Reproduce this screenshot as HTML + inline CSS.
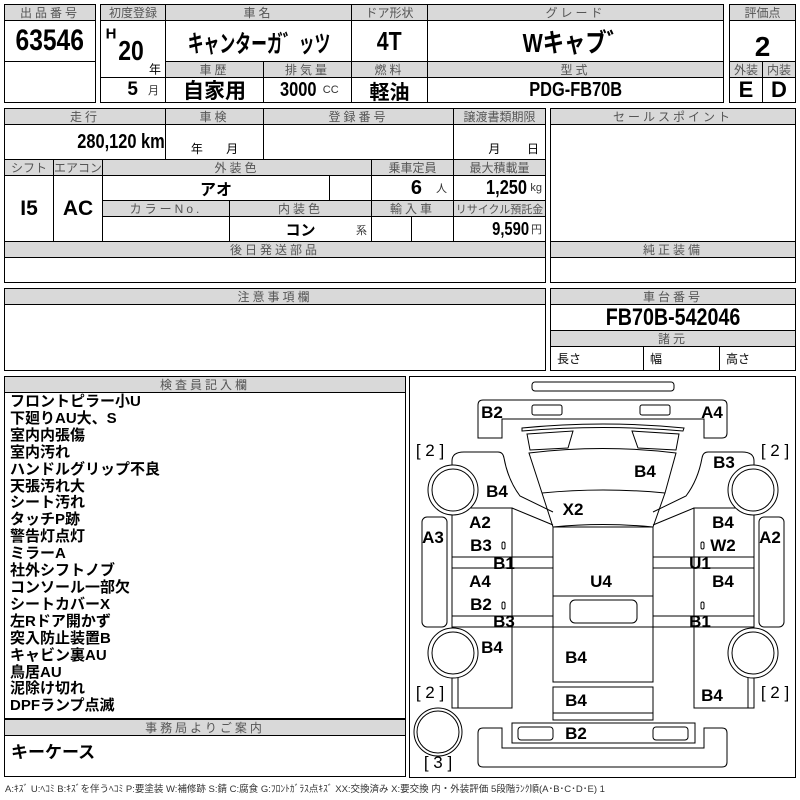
<!DOCTYPE html>
<html><head><meta charset="utf-8"><style>
*{margin:0;padding:0;box-sizing:border-box}
body{width:800px;height:800px;background:#fff;position:relative;overflow:hidden;font-family:"Liberation Sans","Noto Sans CJK JP",sans-serif}
.c{position:absolute;border:1px solid #000;display:flex;align-items:center;justify-content:center;white-space:nowrap}
.h{background:#d9d9d9;color:#555;font-size:12px;letter-spacing:3px}
.v{font-family:"Liberation Sans","Noto Sans CJK JP",sans-serif;font-weight:bold;color:#000}
.s{font-size:11px;color:#333;font-weight:normal}
.n{display:inline-block;transform:scaleX(.82)}
.lbl{position:absolute;font-family:"Liberation Sans","Noto Sans CJK JP",sans-serif;font-weight:bold;font-size:17px;transform:translate(-50%,-50%);white-space:nowrap}
</style></head><body>
<!-- block 1 -->
<div class="c h" style="left:4px;top:4px;width:92px;height:17px">出品番号</div>
<div class="c v" style="left:4px;top:20px;width:92px;height:42px;font-size:30px"><span class="n">63546</span></div>
<div class="c" style="left:4px;top:61px;width:92px;height:42px"></div>
<!-- block 2 -->
<div class="c h" style="left:100px;top:4px;width:66px;height:17px;letter-spacing:0">初度登録</div>
<div class="c h" style="left:165px;top:4px;width:187px;height:17px">車名</div>
<div class="c h" style="left:351px;top:4px;width:77px;height:17px;letter-spacing:0">ドア形状</div>
<div class="c h" style="left:427px;top:4px;width:297px;height:17px">グレード</div>
<div class="c" style="left:100px;top:20px;width:66px;height:58px"></div>
<div class="lbl v" style="left:111px;top:34px;font-size:15px">H</div>
<div class="lbl v" style="left:131px;top:51px;font-size:28px"><span class="n">20</span></div>
<div class="lbl" style="left:155px;top:69px;font-size:12px;font-weight:normal">年</div>
<div class="c v" style="left:165px;top:20px;width:187px;height:42px;font-size:24px;overflow:hidden"><span style="display:inline-block;transform:scaleX(.66)">キャンターガ゛ッツ</span></div>
<div class="c v" style="left:351px;top:20px;width:77px;height:42px;font-size:26px"><span class="n">4T</span></div>
<div class="c v" style="left:427px;top:20px;width:297px;height:42px;font-size:26px"><span class="n">Wキャブ゛</span></div>
<div class="c h" style="left:165px;top:61px;width:99px;height:17px">車歴</div>
<div class="c h" style="left:263px;top:61px;width:89px;height:17px">排気量</div>
<div class="c h" style="left:351px;top:61px;width:77px;height:17px">燃料</div>
<div class="c h" style="left:427px;top:61px;width:297px;height:17px">型式</div>
<div class="c v" style="left:100px;top:77px;width:66px;height:26px;font-size:19px;justify-content:flex-end;padding-right:6px">5 <span class="s" style="margin-left:10px">月</span></div>
<div class="c v" style="left:165px;top:77px;width:99px;height:26px;font-size:21px">自家用</div>
<div class="c v" style="left:263px;top:77px;width:89px;height:26px;font-size:20px"><span class="n">3000</span><span class="s" style="margin-left:2px">CC</span></div>
<div class="c v" style="left:351px;top:77px;width:77px;height:26px;font-size:20px">軽油</div>
<div class="c v" style="left:427px;top:77px;width:297px;height:26px;font-size:20px"><span class="n">PDG-FB70B</span></div>
<!-- block 3 -->
<div class="c h" style="left:729px;top:4px;width:67px;height:17px;letter-spacing:0">評価点</div>
<div class="c v" style="left:729px;top:20px;width:67px;height:42px;font-size:28px;padding-top:12px">2</div>
<div class="c h" style="left:729px;top:61px;width:34px;height:17px;letter-spacing:0">外装</div>
<div class="c h" style="left:762px;top:61px;width:34px;height:17px;letter-spacing:0">内装</div>
<div class="c v" style="left:729px;top:77px;width:34px;height:26px;font-size:22px">E</div>
<div class="c v" style="left:762px;top:77px;width:34px;height:26px;font-size:22px">D</div>
<!-- row 2 -->
<div class="c h" style="left:4px;top:108px;width:162px;height:17px">走行</div>
<div class="c h" style="left:165px;top:108px;width:99px;height:17px">車検</div>
<div class="c h" style="left:263px;top:108px;width:191px;height:17px">登録番号</div>
<div class="c h" style="left:453px;top:108px;width:93px;height:17px;letter-spacing:0">譲渡書類期限</div>
<div class="c v" style="left:4px;top:124px;width:162px;height:36px;font-size:20px;justify-content:flex-end;padding-right:0px"><span class="n" style="transform-origin:right">280,120 km</span></div>
<div class="c" style="left:165px;top:124px;width:99px;height:36px;font-size:12px;align-items:flex-end;padding-bottom:2px">年&nbsp;&nbsp;&nbsp;&nbsp;&nbsp;&nbsp;&nbsp;月</div>
<div class="c" style="left:263px;top:124px;width:191px;height:36px"></div>
<div class="c" style="left:453px;top:124px;width:93px;height:36px;font-size:12px;align-items:flex-end;padding-bottom:2px;justify-content:flex-end;padding-right:6px">月&nbsp;&nbsp;&nbsp;&nbsp;&nbsp;&nbsp;&nbsp;&nbsp;日</div>
<div class="c h" style="left:4px;top:159px;width:50px;height:17px;letter-spacing:0">シフト</div>
<div class="c h" style="left:53px;top:159px;width:50px;height:17px;letter-spacing:0">エアコン</div>
<div class="c h" style="left:102px;top:159px;width:270px;height:17px">外装色</div>
<div class="c h" style="left:371px;top:159px;width:83px;height:17px;letter-spacing:0">乗車定員</div>
<div class="c h" style="left:453px;top:159px;width:93px;height:17px;letter-spacing:0">最大積載量</div>
<div class="c v" style="left:4px;top:175px;width:50px;height:67px;font-size:21px">I5</div>
<div class="c v" style="left:53px;top:175px;width:50px;height:67px;font-size:21px">AC</div>
<div class="c v" style="left:102px;top:175px;width:228px;height:26px;font-size:16px">アオ</div>
<div class="c" style="left:329px;top:175px;width:43px;height:26px"></div>
<div class="c v" style="left:371px;top:175px;width:83px;height:26px;font-size:20px;justify-content:flex-end;padding-right:6px">6 <span class="s" style="margin-left:14px">人</span></div>
<div class="c v" style="left:453px;top:175px;width:93px;height:26px;font-size:20px;justify-content:flex-end;padding-right:3px"><span class="n" style="transform-origin:right">1,250</span><span class="s" style="margin-left:3px">kg</span></div>
<div class="c h" style="left:102px;top:200px;width:128px;height:17px">カラーNo.</div>
<div class="c h" style="left:229px;top:200px;width:143px;height:17px">内装色</div>
<div class="c h" style="left:371px;top:200px;width:83px;height:17px">輸入車</div>
<div class="c h" style="left:453px;top:200px;width:93px;height:17px;letter-spacing:0;font-size:11px">リサイクル預託金</div>
<div class="c" style="left:102px;top:216px;width:128px;height:26px"></div>
<div class="c v" style="left:229px;top:216px;width:143px;height:26px;font-size:15px">コン<span class="s" style="position:absolute;right:4px;bottom:3px">系</span></div>
<div class="c" style="left:371px;top:216px;width:41px;height:26px"></div>
<div class="c" style="left:411px;top:216px;width:43px;height:26px"></div>
<div class="c v" style="left:453px;top:216px;width:93px;height:26px;font-size:18px;justify-content:flex-end;padding-right:3px"><span class="n" style="transform-origin:right">9,590</span><span class="s" style="margin-left:2px">円</span></div>
<div class="c h" style="left:4px;top:241px;width:542px;height:17px">後日発送部品</div>
<div class="c" style="left:4px;top:257px;width:542px;height:26px"></div>
<div class="c h" style="left:550px;top:108px;width:246px;height:17px">セールスポイント</div>
<div class="c" style="left:550px;top:124px;width:246px;height:118px"></div>
<div class="c h" style="left:550px;top:241px;width:246px;height:17px">純正装備</div>
<div class="c" style="left:550px;top:257px;width:246px;height:26px"></div>
<!-- row 3 -->
<div class="c h" style="left:4px;top:288px;width:542px;height:17px">注意事項欄</div>
<div class="c" style="left:4px;top:304px;width:542px;height:67px"></div>
<div class="c h" style="left:550px;top:288px;width:246px;height:17px">車台番号</div>
<div class="c v" style="left:550px;top:304px;width:246px;height:27px;font-size:24px"><span class="n">FB70B-542046</span></div>
<div class="c h" style="left:550px;top:330px;width:246px;height:17px">諸元</div>
<div class="c" style="left:550px;top:346px;width:94px;height:25px;font-size:12px;justify-content:flex-start;padding-left:6px">長さ</div>
<div class="c" style="left:643px;top:346px;width:77px;height:25px;font-size:12px;justify-content:flex-start;padding-left:6px">幅</div>
<div class="c" style="left:719px;top:346px;width:77px;height:25px;font-size:12px;justify-content:flex-start;padding-left:6px">高さ</div>
<!-- row 4 left -->
<div class="c h" style="left:4px;top:376px;width:402px;height:17px">検査員記入欄</div>
<div class="c" style="left:4px;top:392px;width:402px;height:327px"></div>
<div style="position:absolute;left:10px;top:394px;font-size:15px;line-height:16.9px;font-weight:bold;font-family:'Liberation Sans','Noto Sans CJK JP',sans-serif;white-space:nowrap">フロントピラー小U<br>下廻りAU大、S<br>室内内張傷<br>室内汚れ<br>ハンドルグリップ不良<br>天張汚れ大<br>シート汚れ<br>タッチP跡<br>警告灯点灯<br>ミラーA<br>社外シフトノブ<br>コンソール一部欠<br>シートカバーX<br>左Rドア開かず<br>突入防止装置B<br>キャビン裏AU<br>鳥居AU<br>泥除け切れ<br>DPFランプ点滅</div>
<div class="c h" style="left:4px;top:719px;width:402px;height:17px">事務局よりご案内</div>
<div class="c" style="left:4px;top:735px;width:402px;height:42px;font-size:17px;font-weight:bold;justify-content:flex-start;padding-left:6px;align-items:flex-start;padding-top:2px">キーケース</div>
<!-- diagram -->
<div class="c" style="left:409px;top:376px;width:387px;height:402px"></div>
<svg width="800" height="800" style="position:absolute;left:0;top:0" fill="none" stroke="#000" stroke-width="1">
<rect x="532" y="382" width="142" height="9" rx="3"/>
<path d="M478,438 V405 q0,-5 5,-5 H722 q5,0 5,5 V433 q0,5 -5,5 H704 V419 H502 V438 Z"/>
<rect x="532" y="405" width="30" height="10" rx="2"/><rect x="640" y="405" width="30" height="10" rx="2"/>
<path d="M522,428 Q603,420 684,428 L683,431 Q603,424 522,431 Z"/>
<path d="M527,434 L573,431 L568,448 L530,450 Z"/><path d="M632,431 L679,434 L676,450 L638,448 Z"/>
<path d="M529,453 Q603,444 676,453 L665,493 L653,527 L553,527 L542,493 Z"/>
<path d="M542,493 Q603,487 665,493"/>
<path d="M553,527 Q603,522 653,527"/>
<rect x="553" y="527" width="100" height="155"/>
<line x1="553" y1="596" x2="653" y2="596"/><line x1="553" y1="627" x2="653" y2="627"/>
<rect x="570" y="600" width="67" height="23" rx="5"/>
<rect x="553" y="687" width="100" height="33"/><line x1="553" y1="713" x2="653" y2="713"/>
<rect x="512" y="723" width="183" height="20"/>
<rect x="518" y="727" width="35" height="13" rx="3"/><rect x="653" y="727" width="35" height="13" rx="3"/>
<path d="M478,733 q0,-5 5,-5 H502 V748 H704 V728 H722 q5,0 5,5 V762 q0,5 -5,5 H483 q-5,0 -5,-5 Z"/>
<g id="L">
<path d="M452,468 V461 q0,-9 12,-9 H498 q5,0 6,6 Q508,480 520,496 L553,512"/>
<path d="M512,508 L553,525"/>
<rect x="452" y="508" width="60" height="200"/>
<line x1="452" y1="557" x2="553" y2="557"/><line x1="452" y1="568" x2="553" y2="568"/>
<line x1="452" y1="616" x2="553" y2="616"/><line x1="452" y1="627" x2="553" y2="627"/>
<line x1="458" y1="628" x2="458" y2="708"/>
<circle cx="453" cy="490" r="25" fill="#fff"/><circle cx="453" cy="490" r="21"/>
<circle cx="453" cy="653" r="25" fill="#fff"/><circle cx="453" cy="653" r="21"/>
<rect x="422" y="517" width="25" height="110" rx="5"/>
<rect x="502" y="542" width="3" height="7" rx="1.5"/><rect x="502" y="602" width="3" height="7" rx="1.5"/>
</g>
<use href="#L" transform="translate(1206,0) scale(-1,1)"/>
<circle cx="438" cy="732" r="24"/><circle cx="438" cy="732" r="21"/>
</svg>
<div class="lbl" style="left:492px;top:413px">B2</div>
<div class="lbl" style="left:712px;top:413px">A4</div>
<div class="lbl" style="left:430px;top:451px;font-weight:normal">[ 2 ]</div>
<div class="lbl" style="left:775px;top:451px;font-weight:normal">[ 2 ]</div>
<div class="lbl" style="left:724px;top:463px">B3</div>
<div class="lbl" style="left:645px;top:472px">B4</div>
<div class="lbl" style="left:497px;top:492px">B4</div>
<div class="lbl" style="left:573px;top:510px">X2</div>
<div class="lbl" style="left:480px;top:523px">A2</div>
<div class="lbl" style="left:433px;top:538px">A3</div>
<div class="lbl" style="left:481px;top:546px">B3</div>
<div class="lbl" style="left:723px;top:523px">B4</div>
<div class="lbl" style="left:723px;top:546px">W2</div>
<div class="lbl" style="left:770px;top:538px">A2</div>
<div class="lbl" style="left:504px;top:564px">B1</div>
<div class="lbl" style="left:700px;top:564px">U1</div>
<div class="lbl" style="left:480px;top:582px">A4</div>
<div class="lbl" style="left:601px;top:582px">U4</div>
<div class="lbl" style="left:723px;top:582px">B4</div>
<div class="lbl" style="left:481px;top:605px">B2</div>
<div class="lbl" style="left:504px;top:622px">B3</div>
<div class="lbl" style="left:700px;top:622px">B1</div>
<div class="lbl" style="left:492px;top:648px">B4</div>
<div class="lbl" style="left:576px;top:658px">B4</div>
<div class="lbl" style="left:430px;top:693px;font-weight:normal">[ 2 ]</div>
<div class="lbl" style="left:775px;top:693px;font-weight:normal">[ 2 ]</div>
<div class="lbl" style="left:712px;top:696px">B4</div>
<div class="lbl" style="left:576px;top:701px">B4</div>
<div class="lbl" style="left:576px;top:734px">B2</div>
<div class="lbl" style="left:438px;top:763px;font-weight:normal">[ 3 ]</div>
<div style="position:absolute;left:5px;top:781px;font-size:9.5px;color:#333;white-space:nowrap">A:ｷｽﾞ U:ﾍｺﾐ B:ｷｽﾞを伴うﾍｺﾐ P:要塗装 W:補修跡 S:錆 C:腐食 G:ﾌﾛﾝﾄｶﾞﾗｽ点ｷｽﾞ XX:交換済み X:要交換 内・外装評価 5段階ﾗﾝｸ順(A･B･C･D･E) 1</div>
</body></html>
